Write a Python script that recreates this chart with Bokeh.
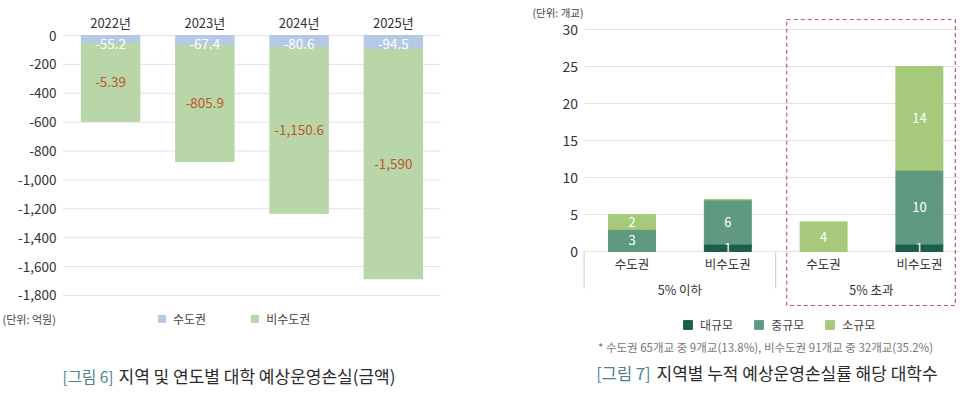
from bokeh.plotting import figure
from bokeh.layouts import row
from bokeh.models import (Range1d, FixedTicker, NumeralTickFormatter, LinearAxis,
                          Label, Legend, LegendItem, ColumnDataSource)
from bokeh.core.properties import value
from bokeh.embed import file_html
from bokeh.resources import INLINE

FONT = "Noto Sans CJK KR"

# ---------------- Figure 6 data ----------------
years = ["2022년", "2023년", "2024년", "2025년"]
capital_loss = [-55.2, -67.4, -80.6, -94.5]
noncapital_loss = [-539.0, -805.9, -1150.6, -1590.0]
capital_labels = ["-55.2", "-67.4", "-80.6", "-94.5"]
noncapital_labels = ["-5.39", "-805.9", "-1,150.6", "-1,590"]
loss_ticks = [0, -200, -400, -600, -800, -1000, -1200, -1400, -1600, -1800]
series6 = ["수도권", "비수도권"]

# ---------------- Figure 7 data ----------------
regions = ["수도권", "비수도권", "수도권", "비수도권"]
groups = ["5% 이하", "5% 이하", "5% 초과", "5% 초과"]
large = [0, 1, 0, 1]
medium = [3, 6, 0, 10]
small = [2, 0, 4, 14]
count_ticks = [0, 5, 10, 15, 20, 25, 30]
series7 = ["대규모", "중규모", "소규모"]
highlight_group = "5% 초과"

BLUE = "#b5c9e7"
GREEN = "#b8d6a7"
ORANGE = "#c0562c"
DARK = "#1c5e4b"
MID = "#5f9a80"
LIGHT = "#a6c97b"
BOX = "#b8606e"
TEAL = "#4e7f8d"
TXT = "#333333"
CAP = "#2a2a2a"
GRID = "#e2e2e2"

W, H = 480, 395


# ---------------- pixel <-> data helpers (layout only) ----------------
def lx(px):
    return (px - 110.1) / 94.25


def ly(py):
    return -(py - 35) / 0.14444


def rx(px):
    return (px - 480 - 151.5) / 95.8


def ry(py):
    return (251 - py) / 7.4


def plain_axis(axis, size, standoff):
    axis.axis_line_color = None
    axis.major_tick_line_color = None
    axis.minor_tick_line_color = None
    axis.major_label_text_font = FONT
    axis.major_label_text_font_size = size
    axis.major_label_text_color = TXT
    axis.major_label_standoff = standoff


# ================= left chart =================
p1 = figure(width=W, height=H, x_range=Range1d(lx(0), lx(W)), y_range=Range1d(ly(H), ly(0)),
            x_axis_location="above", output_backend="svg", toolbar_location=None, min_border=0)
p1.min_border_left = p1.min_border_right = p1.min_border_top = p1.min_border_bottom = 0
p1.outline_line_color = None
p1.grid.visible = False

xs1 = list(range(len(years)))
ax = p1.xaxis[0]
ax.fixed_location = 0
ax.ticker = FixedTicker(ticks=xs1)
ax.major_label_overrides = {i: years[i] for i in xs1}
plain_axis(ax, "13px", -2)

ay = p1.yaxis[0]
ay.fixed_location = -0.5
ay.ticker = FixedTicker(ticks=loss_ticks)
ay.formatter = NumeralTickFormatter(format="0,0")
plain_axis(ay, "13.5px", 1)

p1.segment(x0=[-0.5] * len(loss_ticks), x1=[len(years) - 0.5] * len(loss_ticks),
           y0=loss_ticks, y1=loss_ticks, line_color=GRID, line_width=1)

src1 = ColumnDataSource(dict(
    x=xs1, cap=capital_loss, non=noncapital_loss,
    cap_lbl=capital_labels, non_lbl=noncapital_labels,
    cap_y=[0.0] * len(years),
    non_y=[c + n / 2 for c, n in zip(capital_loss, noncapital_loss)],
))
r6 = p1.vbar_stack(["cap", "non"], x="x", width=0.62, color=[BLUE, GREEN], source=src1)
p1.text(x="x", y="cap_y", text="cap_lbl", source=src1, text_font=value(FONT),
        text_font_size=value("13.5px"), text_color="white", text_align="center",
        text_baseline="top", y_offset=3)
p1.text(x="x", y="non_y", text="non_lbl", source=src1, text_font=value(FONT),
        text_font_size=value("13.5px"), text_color=ORANGE, text_align="center",
        text_baseline="middle")

leg1 = Legend(items=[LegendItem(label=series6[0], renderers=[r6[0]]),
                     LegendItem(label=series6[1], renderers=[r6[1]])],
              location=(157, 68), orientation="horizontal",
              glyph_width=9, glyph_height=9, label_height=12, label_standoff=7, spacing=44,
              padding=0, margin=0, label_text_font=FONT, label_text_font_size="12px",
              label_text_color="#444444", border_line_color=None, background_fill_alpha=0)
p1.add_layout(leg1)

p1.add_layout(Label(x=lx(2), y=ly(318), text="(단위: 억원)", text_font=FONT,
                    text_font_size="11px", text_color="#444444", text_align="left",
                    text_baseline="middle"))
p1.add_layout(Label(x=lx(113), y=ly(375), text="[그림 6]", text_font=FONT,
                    text_font_size="15.5px", text_color=TEAL, text_align="right",
                    text_baseline="middle"))
p1.add_layout(Label(x=lx(118), y=ly(375), text="지역 및 연도별 대학 예상운영손실(금액)",
                    text_font=FONT, text_font_size="17px", text_color=CAP,
                    text_align="left", text_baseline="middle"))

# ================= right chart =================
p2 = figure(width=W, height=H, x_range=Range1d(rx(480), rx(960)), y_range=Range1d(ry(H), ry(0)),
            output_backend="svg", toolbar_location=None, min_border=0)
p2.min_border_left = p2.min_border_right = p2.min_border_top = p2.min_border_bottom = 0
p2.outline_line_color = None
p2.grid.visible = False

xs = list(range(len(regions)))

by = p2.yaxis[0]
by.fixed_location = -0.5
by.ticker = FixedTicker(ticks=count_ticks)
plain_axis(by, "14px", 0)

bx = p2.xaxis[0]
bx.fixed_location = 0
bx.ticker = FixedTicker(ticks=xs)
bx.major_label_overrides = {i: regions[i] for i in xs}
plain_axis(bx, "12.5px", -4)

uniq_groups = list(dict.fromkeys(groups))
g_centers = [sum(i for i in xs if groups[i] == g) / groups.count(g) for g in uniq_groups]
gx = LinearAxis(fixed_location=0, ticker=FixedTicker(ticks=g_centers),
                major_label_overrides={c: g for c, g in zip(g_centers, uniq_groups)})
plain_axis(gx, "12.5px", 22)
p2.add_layout(gx, "below")

p2.segment(x0=[-0.5] * len(count_ticks), x1=[rx(960)] * len(count_ticks),
           y0=count_ticks, y1=count_ticks, line_color=GRID, line_width=1)

g_starts = [min(i for i in xs if groups[i] == g) - 0.5 for g in uniq_groups]
p2.segment(x0=g_starts, x1=g_starts, y0=[0] * len(g_starts), y1=[ry(288)] * len(g_starts),
           line_color="#cccccc", line_width=1)

src2 = ColumnDataSource(dict(x=xs, large=large, medium=medium, small=small))
r7 = p2.vbar_stack(["large", "medium", "small"], x="x", width=0.49,
                   color=[DARK, MID, LIGHT], source=src2)

lab_x, lab_y, lab_t = [], [], []
for i in xs:
    base = 0
    for vals in (large, medium, small):
        v = vals[i]
        if v > 0:
            lab_x.append(i)
            lab_y.append(base + v / 2)
            lab_t.append(str(v))
        base += v
p2.text(x=lab_x, y=lab_y, text=lab_t, text_font=value(FONT), text_font_size=value("13px"),
        text_color="white", text_align="center", text_baseline="middle")

hi = [i for i in xs if groups[i] == highlight_group]
p2.quad(left=[min(hi) - 0.5 + 0.115], right=[max(hi) + 0.5 - 0.125], top=[ry(19)],
        bottom=[ry(305)], fill_color=None, line_color=BOX, line_dash="4 3", line_width=1.2)

leg2 = Legend(items=[LegendItem(label=series7[k], renderers=[r7[k]]) for k in range(3)],
              location=(202, 62), orientation="horizontal",
              glyph_width=11, glyph_height=11, label_height=12, label_standoff=7, spacing=20,
              padding=0, margin=0, label_text_font=FONT, label_text_font_size="12px",
              label_text_color="#444444", border_line_color=None, background_fill_alpha=0)
p2.add_layout(leg2)

p2.add_layout(Label(x=rx(583), y=ry(12), text="(단위: 개교)", text_font=FONT,
                    text_font_size="10.5px", text_color="#444444", text_align="right",
                    text_baseline="middle"))
p2.add_layout(Label(x=rx(765), y=ry(346),
                    text="* 수도권 65개교 중 9개교(13.8%), 비수도권 91개교 중 32개교(35.2%)",
                    text_font=FONT, text_font_size="11.5px", text_color="#777777",
                    text_align="center", text_baseline="middle"))
p2.add_layout(Label(x=rx(650), y=ry(372), text="[그림 7]", text_font=FONT,
                    text_font_size="16.5px", text_color=TEAL, text_align="right",
                    text_baseline="middle"))
p2.add_layout(Label(x=rx(656), y=ry(372), text="지역별 누적 예상운영손실률 해당 대학수",
                    text_font=FONT, text_font_size="17px", text_color=CAP,
                    text_align="left", text_baseline="middle"))

layout = row(p1, p2)
open("out.html", "w").write(file_html(layout, INLINE))
